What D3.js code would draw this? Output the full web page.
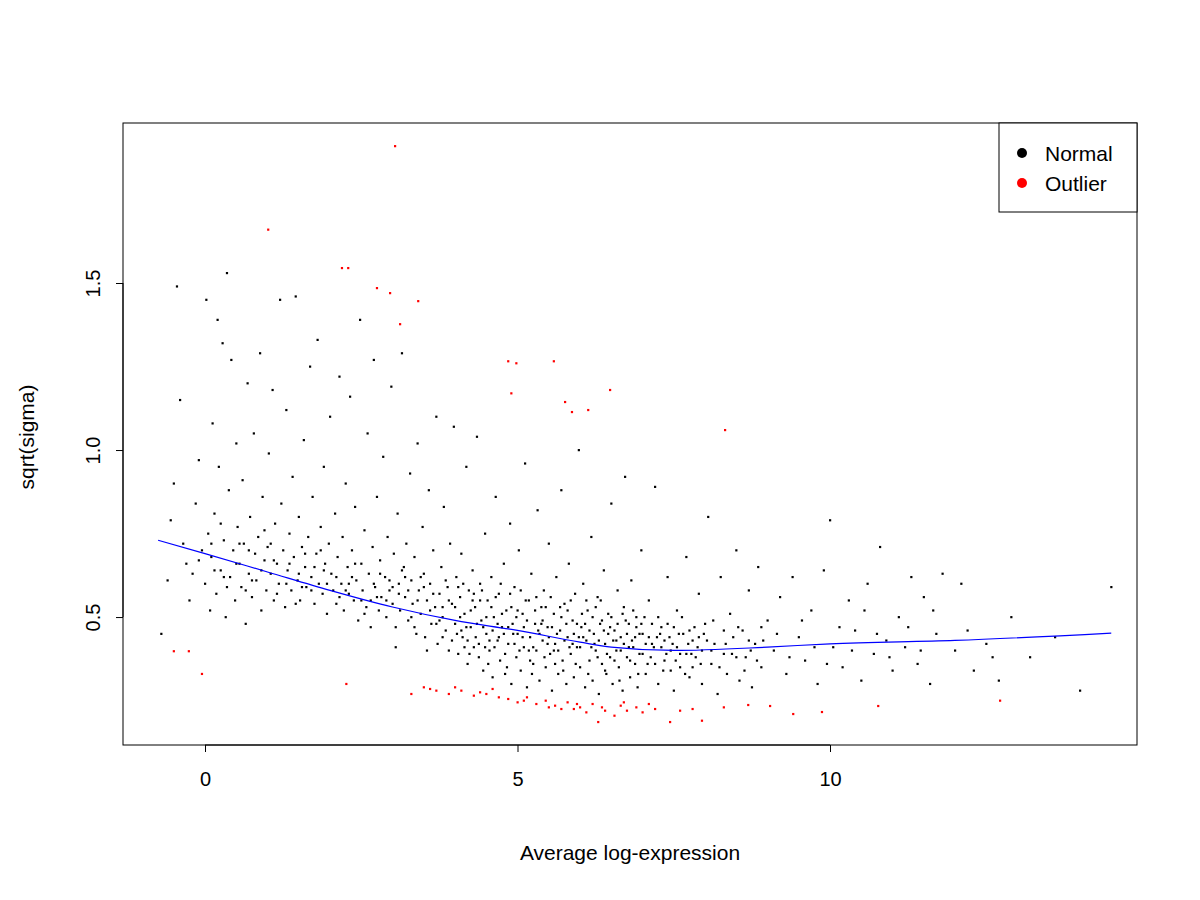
<!DOCTYPE html>
<html>
<head>
<meta charset="utf-8">
<style>
  body { margin: 0; background: white; }
  svg { font-family: 'Liberation Sans', Arial, sans-serif; }
</style>
</head>
<body>
<svg width="1200" height="900"></svg>
<script src="https://d3js.org/d3.v7.min.js"></script>
<script>
// ticks
const xTicks = [0, 5, 10]
const yTicks = [0.5, 1.0, 1.5]

// lowess trend
const trendX = [-0.75, 0, 1, 2, 3, 4, 5, 6, 6.5, 7.5, 9, 10, 12, 14.5]
const trendY = [0.73, 0.69, 0.635, 0.58, 0.53, 0.49, 0.46, 0.425, 0.41, 0.40, 0.41, 0.42, 0.43, 0.452]

// outliers: x,y pairs
const outlierPts = [
  3.04,1.91, 1.01,1.66, 2.19,1.545, 2.29,1.545, 2.75,1.485, 2.96,1.47, 3.41,1.446, 3.12,1.377,
  4.85,1.266, 4.98,1.26, 5.58,1.266, 6.48,1.18, 4.9,1.17, 5.76,1.144, 5.87,1.114, 6.13,1.12, 8.32,1.06,
  -0.5,0.398, -0.26,0.398, -0.05,0.33, 2.26,0.30,
  3.3,0.27, 3.5,0.29, 3.7,0.28, 3.9,0.27, 4.1,0.28, 4.3,0.265, 4.5,0.27, 4.7,0.26, 4.85,0.255,
  5.0,0.245, 5.15,0.26, 5.3,0.24, 5.45,0.25, 5.6,0.235, 5.7,0.225, 5.8,0.245, 5.9,0.225, 6.0,0.23,
  6.1,0.215, 6.2,0.24, 6.29,0.186, 6.4,0.22, 6.55,0.205, 6.65,0.235, 6.75,0.22, 6.9,0.23, 7.0,0.215,
  7.2,0.225, 7.44,0.186, 7.6,0.22, 7.8,0.225, 7.95,0.19, 8.3,0.23, 8.69,0.237, 9.04,0.234, 9.41,0.21,
  9.87,0.216, 10.77,0.234, 12.72,0.25,
  3.6,0.285, 4.0,0.29, 4.4,0.275, 4.6,0.285, 5.1,0.25, 5.5,0.23, 5.95,0.24, 6.35,0.23, 6.7,0.245, 7.1,0.24
]

// normal points (representative sample): x,y pairs
const normalPts = [
  -0.7,.45, -0.6,.61, -0.55,.79, -0.5,.9, -0.45,1.49, -0.4,1.15, -0.35,.72, -0.3,.66, -0.25,.55, -0.2,.63,
  -0.15,.84, -0.1,.97, -0.05,.70, 0,.60, 0.02,1.45, 0.05,.75, 0.08,.52, 0.1,.68, 0.12,1.08, 0.15,.81,
  0.18,.57, 0.2,1.39, 0.22,.95, 0.25,.64, 0.28,1.32, 0.3,.73, 0.33,.50, 0.35,1.53, 0.38,.88, 0.4,.62,
  0.42,1.27, 0.45,.70, 0.48,.55, 0.5,1.02, 0.52,.77, 0.55,.66, 0.58,.59, 0.6,.91, 0.62,.72, 0.65,.48,
  0.68,1.2, 0.7,.63, 0.72,.80, 0.75,.56, 0.78,1.05, 0.8,.69, 0.82,.61, 0.85,.74, 0.88,1.29, 0.9,.52,
  0.92,.86, 0.95,.67, 0.98,.58, 1.0,.71, 1.02,.99, 1.05,.63, 1.08,1.18, 1.1,.55, 1.12,.78, 1.15,.66,
  1.18,.60, 1.2,1.45, 1.22,.84, 1.25,.70, 1.28,.53, 1.3,1.12, 1.32,.64, 1.35,.75, 1.38,.58, 1.4,.92,
  1.42,.68, 1.45,1.46, 1.48,.61, 1.5,.80, 1.52,.55, 1.55,.71, 1.58,1.03, 1.6,.65, 1.62,.59, 1.65,.74,
  1.68,1.25, 1.7,.62, 1.72,.86, 1.75,.54, 1.78,.69, 1.8,1.33, 1.82,.60, 1.85,.77, 1.88,.57, 1.9,.95,
  1.92,.66, 1.95,.51, 1.98,.72, 2.0,1.10, 2.02,.63, 2.05,.58, 2.08,.81, 2.1,.54, 2.12,.68, 2.15,1.22,
  2.18,.60, 2.2,.74, 2.22,.52, 2.25,.90, 2.28,.65, 2.3,.57, 2.32,1.16, 2.35,.70, 2.38,.55, 2.4,.83,
  2.42,.61, 2.45,.49, 2.48,1.39, 2.5,.66, 2.52,.58, 2.55,.76, 2.58,.53, 2.6,1.05, 2.62,.63, 2.65,.47,
  2.68,.71, 2.7,1.27, 2.72,.59, 2.75,.86, 2.78,.52, 2.8,.67, 2.82,.56, 2.85,.98, 2.88,.62, 2.9,.50,
  2.92,.74, 2.95,.58, 2.98,1.19, 3.0,.54, 3.02,.69, 3.05,.47, 3.08,.81, 3.1,.60, 3.12,.52, 3.15,1.29,
  3.18,.65, 3.2,.56, 3.22,.72, 3.25,.49, 3.28,.93, 3.3,.61, 3.32,.54, 3.35,.68, 3.38,.45, 3.4,1.02,
  3.42,.58, 3.45,.51, 3.48,.77, 3.5,.63, 3.52,.44, 3.55,.55, 3.58,.88, 3.6,.60, 3.62,.48, 3.65,.70,
  3.68,.53, 3.7,1.10, 3.72,.42, 3.75,.57, 3.78,.65, 3.8,.50, 3.82,.83, 3.85,.46, 3.88,.59, 3.9,.40,
  3.92,.72, 3.95,.54, 3.98,1.07, 4.0,.48, 4.02,.62, 4.05,.39, 4.08,.56, 4.1,.69, 4.12,.44, 4.15,.51,
  4.18,.95, 4.2,.36, 4.22,.58, 4.25,.47, 4.28,.64, 4.3,.41, 4.32,.53, 4.35,1.04, 4.38,.38, 4.4,.60,
  4.42,.49, 4.45,.34, 4.48,.75, 4.5,.45, 4.52,.55, 4.55,.40, 4.58,.62, 4.6,.32, 4.62,.50, 4.65,.86,
  4.68,.43, 4.7,.57, 4.72,.37, 4.75,.47, 4.78,.66, 4.8,.33, 4.82,.52, 4.85,.42, 4.88,.78, 4.9,.30,
  4.92,.48, 4.95,.59, 4.98,.38, 5.0,.45, 5.02,.70, 5.05,.34, 5.08,.51, 5.1,.41, 5.12,.96, 5.15,.29,
  5.18,.55, 5.2,.44, 5.22,.63, 5.25,.36, 5.28,.48, 5.3,.40, 5.32,.82, 5.35,.31, 5.38,.53, 5.4,.43,
  5.42,.58, 5.45,.35, 5.48,.47, 5.5,.72, 5.52,.39, 5.55,.28, 5.58,.51, 5.6,.42, 5.62,.62, 5.65,.33,
  5.68,.46, 5.7,.88, 5.72,.37, 5.75,.54, 5.78,.30, 5.8,.44, 5.82,.66, 5.85,.39, 5.88,.49, 5.9,.32,
  5.92,.57, 5.95,.41, 5.98,1.0, 6.0,.35, 6.02,.47, 6.05,.60, 6.08,.29, 6.1,.43, 6.12,.52, 6.15,.37,
  6.18,.74, 6.2,.31, 6.22,.45, 6.25,.40, 6.28,.56, 6.3,.27, 6.32,.48, 6.35,.36, 6.38,.64, 6.4,.42,
  6.42,.33, 6.45,.51, 6.48,.38, 6.5,.84, 6.52,.30, 6.55,.46, 6.58,.40, 6.6,.58, 6.62,.35, 6.65,.44,
  6.68,.28, 6.7,.53, 6.72,.92, 6.75,.38, 6.78,.48, 6.8,.32, 6.82,.61, 6.85,.41, 6.88,.36, 6.9,.50,
  6.92,.29, 6.95,.45, 6.98,.70, 7.0,.39, 7.05,.33, 7.1,.55, 7.15,.42, 7.2,.89, 7.25,.30, 7.3,.47,
  7.35,.37, 7.4,.62, 7.45,.40, 7.5,.28, 7.55,.52, 7.6,.35, 7.65,.45, 7.7,.68, 7.75,.32, 7.8,.43,
  7.85,.38, 7.9,.57, 7.95,.30, 8.0,.48, 8.05,.80, 8.1,.36, 8.15,.42, 8.2,.27, 8.25,.62, 8.3,.39,
  8.35,.33, 8.4,.51, 8.45,.44, 8.5,.70, 8.55,.31, 8.6,.46, 8.65,.38, 8.7,.58, 8.75,.29, 8.8,.42,
  8.85,.65, 8.9,.35, 9.0,.49, 9.1,.40, 9.2,.56, 9.3,.33, 9.4,.62, 9.5,.44, 9.6,.37, 9.7,.52,
  9.8,.30, 9.9,.64, 10.0,.79, 10.05,.41, 10.2,.35, 10.3,.55, 10.4,.46, 10.5,.31, 10.6,.60, 10.7,.39,
  10.8,.71, 10.9,.43, 11.0,.34, 11.1,.50, 11.2,.41, 11.3,.62, 11.4,.36, 11.5,.56, 11.6,.30, 11.7,.45,
  11.8,.63, 12.0,.40, 12.1,.60, 12.3,.34, 12.5,.42, 12.7,.31, 12.9,.50, 13.2,.38, 13.6,.44, 14.0,.28,
  14.5,.59,
  // dense core, second pass
  3.1,.57, 3.3,.50, 3.5,.59, 3.7,.48, 3.9,.55, 4.1,.46, 4.3,.57, 4.5,.50, 4.7,.44, 4.9,.53,
  5.1,.47, 5.3,.56, 5.5,.44, 5.7,.50, 5.9,.45, 6.1,.55, 6.3,.43, 6.5,.50, 6.7,.42, 6.9,.47,
  7.1,.44, 7.3,.41, 7.5,.47, 7.7,.39, 7.9,.44, 8.1,.40, 8.3,.46, 8.5,.38, 8.7,.43, 8.9,.47,
  4.0,.53, 4.2,.43, 4.4,.55, 4.6,.46, 4.8,.39, 5.0,.52, 5.2,.37, 5.4,.49, 5.6,.36, 5.8,.52,
  6.0,.41, 6.2,.50, 6.4,.34, 6.6,.48, 6.8,.37, 7.0,.45, 7.2,.36, 7.4,.48, 7.6,.39, 7.8,.35,
  3.6,.52, 3.8,.44, 4.05,.59, 4.25,.52, 4.45,.47, 4.65,.56, 4.85,.47, 5.05,.58, 5.25,.41, 5.45,.53,
  5.65,.40, 5.85,.55, 6.05,.44, 6.25,.53, 6.45,.45, 6.65,.40, 6.85,.52, 7.05,.42, 7.25,.50, 7.45,.34,
  4.15,.41, 4.35,.48, 4.55,.43, 4.75,.51, 4.95,.42, 5.15,.49, 5.35,.45, 5.55,.47, 5.75,.43, 5.95,.48,
  6.15,.46, 6.35,.49, 6.55,.37, 6.75,.45, 6.95,.39, 7.15,.48, 7.35,.43, 7.55,.41, 7.75,.46, 7.95,.40,
  2.1,.62, 2.3,.60, 2.5,.55, 2.7,.60, 2.9,.55, 1.5,.63, 1.7,.58, 1.9,.64, 1.1,.67, 1.3,.60,
  0.9,.64, 0.7,.70, 0.5,.66, 0.3,.62, 0.1,.72, -0.1,.67, 1.6,.69, 2.4,.66, 2.8,.63, 3.2,.62,
  // dense core, third pass
  3.05,.41, 3.15,.64, 3.25,.58, 3.35,.47, 3.45,.62, 3.55,.40, 3.65,.57, 3.75,.49, 3.85,.61, 3.95,.43,
  4.03,.45, 4.13,.60, 4.23,.39, 4.33,.44, 4.43,.58, 4.53,.36, 4.63,.41, 4.73,.60, 4.83,.35, 4.93,.45,
  5.03,.40, 5.13,.55, 5.23,.33, 5.33,.46, 5.43,.38, 5.53,.56, 5.63,.45, 5.73,.34, 5.83,.41, 5.93,.36,
  6.03,.51, 6.13,.33, 6.23,.42, 6.33,.55, 6.43,.39, 6.53,.43, 6.63,.31, 6.73,.49, 6.83,.43, 6.93,.33,
  7.03,.50, 7.13,.38, 7.23,.44, 7.33,.34, 7.43,.44, 7.53,.37, 7.63,.50, 7.73,.42, 7.83,.47, 7.93,.36,
  8.03,.43, 8.13,.49, 8.23,.35, 8.33,.42, 8.43,.39, 8.53,.47, 8.63,.34, 8.73,.40, 8.83,.37, 8.93,.43,
  4.08,.50, 4.28,.55, 4.48,.41, 4.68,.48, 4.88,.57, 5.08,.44, 5.28,.52, 5.48,.42, 5.68,.53, 5.88,.42,
  6.08,.48, 6.28,.38, 6.48,.47, 6.68,.51, 6.88,.44, 7.08,.36, 7.28,.45, 7.48,.42, 7.68,.33, 7.88,.41,
  4.18,.47, 4.38,.42, 4.58,.53, 4.78,.45, 4.98,.50, 5.18,.40, 5.38,.48, 5.58,.40, 5.78,.48, 5.98,.44,
  6.18,.41, 6.38,.46, 6.58,.43, 6.78,.41, 6.98,.48, 7.18,.41, 7.38,.39, 7.58,.45, 7.78,.39, 7.98,.45,
  0.15,.64, 0.35,.59, 0.55,.72, 0.75,.61, 0.95,.76, 1.15,.57, 1.35,.66, 1.55,.59, 1.75,.65, 1.95,.60,
  2.15,.56, 2.35,.62, 2.55,.51, 2.75,.56, 2.95,.61, 0.25,.78, 0.65,.58, 1.05,.72, 1.45,.54, 1.85,.70,
  2.25,.58, 2.65,.55, 3.0,.59, 3.4,.55, 3.8,.53, 9.15,.45, 9.35,.38, 9.55,.49, 9.75,.41, 9.95,.36,
  10.15,.47, 10.35,.40, 10.55,.52, 10.75,.45, 10.95,.38, 11.25,.47, 11.45,.40, 11.65,.52, 12.2,.46, 12.6,.38
]

const width = 1200, height = 900
const margin = { top: 123, right: 63, bottom: 155, left: 123 }

const x = d3.scaleLinear().domain([-1.312, 14.912]).range([margin.left, width - margin.right])
const y = d3.scaleLinear().domain([0.117, 1.979]).range([height - margin.bottom, margin.top])

const svg = d3.select("svg")

function pairs(a) {
  const out = []
  for (let i = 0; i < a.length; i += 2) out.push([a[i], a[i + 1]])
  return out
}

svg.append("g").selectAll("rect")
  .data(pairs(normalPts))
  .join("rect")
  .attr("x", d => x(d[0]) - 1).attr("y", d => y(d[1]) - 1)
  .attr("width", 2.2).attr("height", 2.2).attr("fill", "black")

svg.append("g").selectAll("rect")
  .data(pairs(outlierPts))
  .join("rect")
  .attr("x", d => x(d[0]) - 1).attr("y", d => y(d[1]) - 1)
  .attr("width", 2.2).attr("height", 2.2).attr("fill", "red")

const line = d3.line().x((d, i) => x(trendX[i])).y((d, i) => y(trendY[i])).curve(d3.curveMonotoneX)
svg.append("path").datum(trendX).attr("d", line)
  .attr("fill", "none").attr("stroke", "blue").attr("stroke-width", 1.2)

// box
svg.append("rect")
  .attr("x", margin.left).attr("y", margin.top)
  .attr("width", width - margin.left - margin.right)
  .attr("height", height - margin.top - margin.bottom)
  .attr("fill", "none").attr("stroke", "black")

const xAxis = svg.append("g")
  .attr("transform", "translate(0," + (height - margin.bottom) + ")")
  .call(d3.axisBottom(x).tickValues(xTicks).tickSize(7).tickPadding(20).tickFormat(d3.format("d")))
xAxis.select(".domain").attr("d", "M" + x(0) + ",0H" + x(10))

const yAxis = svg.append("g")
  .attr("transform", "translate(" + margin.left + ",0)")
  .call(d3.axisLeft(y).tickValues(yTicks).tickSize(7).tickFormat(d3.format(".1f")))
yAxis.select(".domain").attr("d", "M0," + y(0.5) + "V" + y(1.5))
yAxis.selectAll(".tick text")
  .attr("transform", "rotate(-90)").attr("text-anchor", "middle")
  .attr("x", 0).attr("y", -23).attr("dy", 0)

svg.selectAll(".tick text").attr("font-size", 20).attr("fill", "black")
  .attr("font-family", "'Liberation Sans', Arial, sans-serif")

svg.append("text").attr("x", 630).attr("y", 860).attr("text-anchor", "middle")
  .attr("font-size", 21).text("Average log-expression")
svg.append("text").attr("transform", "translate(34," + 437 + ") rotate(-90)")
  .attr("text-anchor", "middle").attr("font-size", 21).text("sqrt(sigma)")

// legend
const lg = svg.append("g")
lg.append("rect").attr("x", 999).attr("y", 123).attr("width", 138).attr("height", 89)
  .attr("fill", "white").attr("stroke", "black")
const legendItems = [["Normal", "black"], ["Outlier", "red"]]
legendItems.forEach((d, i) => {
  lg.append("circle").attr("cx", 1022).attr("cy", 153 + i * 30).attr("r", 5).attr("fill", d[1])
  lg.append("text").attr("x", 1045).attr("y", 161 + i * 30).attr("font-size", 21).text(d[0])
})
</script>
</body>
</html>
